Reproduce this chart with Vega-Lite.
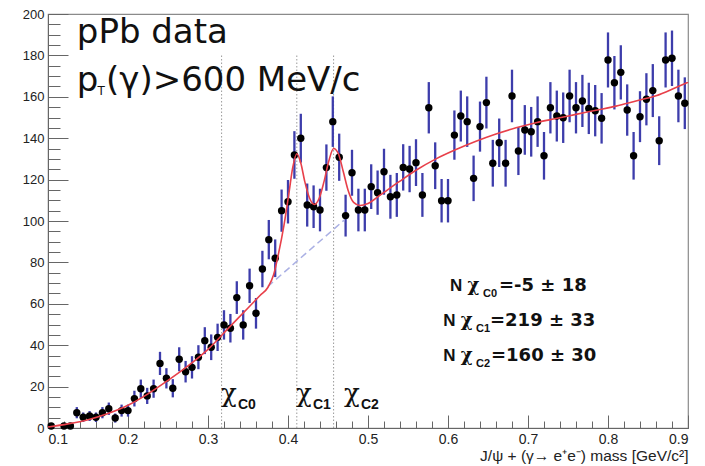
{
  "$schema": "https://vega.github.io/schema/vega-lite/v6.json",
  "width": 640,
  "height": 414,
  "autosize": {"type": "none"},
  "padding": {"left": 48, "top": 14, "right": 17, "bottom": 38},
  "background": "white",
  "config": {
    "view": {"stroke": "#8a8a8a", "strokeWidth": 1.2},
    "axis": {"grid": false, "labelFont": "Liberation Sans", "titleFont": "Liberation Sans", "labelColor": "#222", "titleColor": "#222", "domainColor": "#666", "tickColor": "#666"}
  },
  "datasets": {
    "pts": [
      {"m":0.104,"n":1,"lo":0,"hi":2},{"m":0.120,"n":1,"lo":0,"hi":2},{"m":0.128,"n":1,"lo":0,"hi":2},
      {"m":0.136,"n":7.4,"lo":4.7,"hi":10.1},{"m":0.144,"n":5.2,"lo":2.9,"hi":7.5},{"m":0.152,"n":5.8,"lo":3.4,"hi":8.2},
      {"m":0.160,"n":5.2,"lo":2.9,"hi":7.5},{"m":0.168,"n":7.4,"lo":4.7,"hi":10.1},{"m":0.176,"n":9.3,"lo":6.3,"hi":12.3},
      {"m":0.184,"n":4.8,"lo":2.6,"hi":7.0},{"m":0.192,"n":8.4,"lo":5.5,"hi":11.3},{"m":0.200,"n":8.4,"lo":5.5,"hi":11.3},
      {"m":0.208,"n":14.2,"lo":10.4,"hi":18.0},{"m":0.216,"n":19,"lo":14.6,"hi":23.4},{"m":0.224,"n":15.5,"lo":11.6,"hi":19.4},
      {"m":0.232,"n":19,"lo":14.6,"hi":23.4},{"m":0.240,"n":31.2,"lo":25.6,"hi":36.8},{"m":0.248,"n":24,"lo":19.1,"hi":28.9},
      {"m":0.256,"n":19.2,"lo":14.8,"hi":23.6},{"m":0.264,"n":33.2,"lo":27.4,"hi":39.0},{"m":0.272,"n":27.2,"lo":22.0,"hi":32.4},
      {"m":0.280,"n":29.3,"lo":23.9,"hi":34.7},{"m":0.288,"n":34.2,"lo":28.4,"hi":40.0},{"m":0.296,"n":42.2,"lo":35.7,"hi":48.7},
      {"m":0.304,"n":39,"lo":32.8,"hi":45.2},{"m":0.312,"n":43.8,"lo":37.2,"hi":50.4},{"m":0.320,"n":49.8,"lo":42.7,"hi":56.9},
      {"m":0.328,"n":48.2,"lo":41.3,"hi":55.1},{"m":0.336,"n":63,"lo":55.1,"hi":70.9},{"m":0.344,"n":49.8,"lo":42.7,"hi":56.9},
      {"m":0.352,"n":68.7,"lo":60.4,"hi":77.0},{"m":0.360,"n":55.4,"lo":48.0,"hi":62.8},{"m":0.368,"n":76.8,"lo":68.0,"hi":85.6},
      {"m":0.376,"n":91,"lo":81.5,"hi":100.5},{"m":0.384,"n":82,"lo":72.9,"hi":91.1},{"m":0.392,"n":105,"lo":94.8,"hi":115.2},
      {"m":0.400,"n":109.3,"lo":98.8,"hi":119.8},{"m":0.408,"n":131.9,"lo":120.4,"hi":143.4},{"m":0.416,"n":140,"lo":128.2,"hi":151.8},
      {"m":0.424,"n":107.7,"lo":97.3,"hi":118.1},{"m":0.432,"n":106.9,"lo":96.6,"hi":117.2},{"m":0.440,"n":105.3,"lo":95.0,"hi":115.6},
      {"m":0.448,"n":125.8,"lo":114.6,"hi":137.0},{"m":0.456,"n":148,"lo":135.8,"hi":160.2},{"m":0.464,"n":130.8,"lo":119.4,"hi":142.2},
      {"m":0.472,"n":102.6,"lo":92.5,"hi":112.7},{"m":0.480,"n":123.3,"lo":112.2,"hi":134.4},{"m":0.488,"n":105.3,"lo":95.0,"hi":115.6},
      {"m":0.496,"n":105.3,"lo":95.0,"hi":115.6},{"m":0.504,"n":116.6,"lo":105.8,"hi":127.4},{"m":0.512,"n":113.7,"lo":103.0,"hi":124.4},
      {"m":0.520,"n":123.8,"lo":112.7,"hi":134.9},{"m":0.528,"n":111.7,"lo":101.1,"hi":122.3},{"m":0.536,"n":112.6,"lo":102.0,"hi":123.2},
      {"m":0.544,"n":125.9,"lo":114.7,"hi":137.1},{"m":0.552,"n":125.1,"lo":113.9,"hi":136.3},{"m":0.560,"n":128.2,"lo":116.9,"hi":139.5},
      {"m":0.568,"n":112.6,"lo":102.0,"hi":123.2},{"m":0.576,"n":154.7,"lo":142.3,"hi":167.1},{"m":0.584,"n":126.7,"lo":115.4,"hi":138.0},
      {"m":0.592,"n":109.8,"lo":99.3,"hi":120.3},{"m":0.600,"n":109.8,"lo":99.3,"hi":120.3},{"m":0.608,"n":141.5,"lo":129.6,"hi":153.4},
      {"m":0.616,"n":150.7,"lo":138.4,"hi":163.0},{"m":0.624,"n":148,"lo":135.8,"hi":160.2},{"m":0.632,"n":120.6,"lo":109.6,"hi":131.6},
      {"m":0.640,"n":145.6,"lo":133.5,"hi":157.7},{"m":0.648,"n":157.2,"lo":144.7,"hi":169.7},{"m":0.656,"n":127.9,"lo":116.6,"hi":139.2},
      {"m":0.664,"n":137.8,"lo":126.1,"hi":149.5},{"m":0.672,"n":127.9,"lo":116.6,"hi":139.2},{"m":0.680,"n":160.4,"lo":147.7,"hi":173.1},
      {"m":0.688,"n":133.8,"lo":122.2,"hi":145.4},{"m":0.696,"n":144,"lo":132.0,"hi":156.0},{"m":0.704,"n":143.1,"lo":131.1,"hi":155.1},
      {"m":0.712,"n":148,"lo":135.8,"hi":160.2},{"m":0.720,"n":131.5,"lo":120.0,"hi":143.0},{"m":0.728,"n":154.7,"lo":142.3,"hi":167.1},
      {"m":0.736,"n":150.7,"lo":138.4,"hi":163.0},{"m":0.744,"n":149.9,"lo":137.7,"hi":162.1},{"m":0.752,"n":160.4,"lo":147.7,"hi":173.1},
      {"m":0.760,"n":154.7,"lo":142.3,"hi":167.1},{"m":0.768,"n":158,"lo":145.4,"hi":170.6},{"m":0.776,"n":154.4,"lo":142.0,"hi":166.8},
      {"m":0.784,"n":153.3,"lo":140.9,"hi":165.7},{"m":0.792,"n":149.6,"lo":137.4,"hi":161.8},{"m":0.800,"n":177.8,"lo":164.5,"hi":191.1},
      {"m":0.808,"n":166.8,"lo":153.9,"hi":179.7},{"m":0.816,"n":171.8,"lo":158.7,"hi":184.9},{"m":0.824,"n":153.6,"lo":141.2,"hi":166.0},
      {"m":0.832,"n":131.5,"lo":120.0,"hi":143.0},{"m":0.840,"n":150.4,"lo":138.1,"hi":162.7},{"m":0.848,"n":158.8,"lo":146.2,"hi":171.4},
      {"m":0.856,"n":163,"lo":150.2,"hi":175.8},{"m":0.864,"n":138.8,"lo":127.0,"hi":150.6},{"m":0.872,"n":177.8,"lo":164.5,"hi":191.1},
      {"m":0.880,"n":178.6,"lo":165.2,"hi":192.0},{"m":0.888,"n":160.4,"lo":147.7,"hi":173.1},{"m":0.896,"n":156.9,"lo":144.4,"hi":169.4}
    ],
    "fit": [
      {"m":0.100,"n":0.5},{"m":0.125,"n":2},{"m":0.15,"n":4},{"m":0.175,"n":7},{"m":0.2,"n":11},{"m":0.225,"n":16.5},
      {"m":0.25,"n":23},{"m":0.275,"n":30},{"m":0.3,"n":38},{"m":0.325,"n":48},{"m":0.35,"n":58},{"m":0.365,"n":64},
      {"m":0.375,"n":68},{"m":0.382,"n":74},{"m":0.388,"n":84},{"m":0.395,"n":98},{"m":0.401,"n":113},{"m":0.406,"n":126},
      {"m":0.411,"n":132.5},{"m":0.416,"n":128},{"m":0.421,"n":119},{"m":0.427,"n":111},{"m":0.433,"n":108},{"m":0.439,"n":111},
      {"m":0.445,"n":119},{"m":0.451,"n":129},{"m":0.457,"n":135},{"m":0.463,"n":132.5},{"m":0.469,"n":124},{"m":0.475,"n":115},
      {"m":0.482,"n":109},{"m":0.49,"n":107.5},{"m":0.5,"n":108.5},{"m":0.515,"n":112.5},{"m":0.539,"n":119},{"m":0.56,"n":124.5},
      {"m":0.585,"n":130},{"m":0.61,"n":134.5},{"m":0.635,"n":138.5},{"m":0.66,"n":142},{"m":0.685,"n":145},{"m":0.71,"n":147.5},
      {"m":0.735,"n":149.5},{"m":0.76,"n":151.5},{"m":0.785,"n":153.5},{"m":0.81,"n":155.5},{"m":0.835,"n":158},{"m":0.86,"n":160.5},
      {"m":0.885,"n":164.5},{"m":0.9,"n":167}
    ],
    "bg": [{"m":0.3746,"n":68.3},{"m":0.4704,"n":100.5}],
    "vlines": [{"m":0.317},{"m":0.411},{"m":0.457}],
    "labels": [
      {"t":"pPb data","m":0.136,"v":186.1,"k":"big"},
      {"t":"p","m":0.136,"v":163,"k":"big"},
      {"t":"(γ)>600 MeV/c","m":0.1725,"v":163,"k":"big"},
      {"t":"T","m":0.162,"v":161,"k":"bigsub"},
      {"t":"χ","m":0.31625,"v":12.6,"k":"chi"},
      {"t":"χ","m":0.41,"v":12.6,"k":"chi"},
      {"t":"χ","m":0.47,"v":12.6,"k":"chi"},
      {"t":"C0","m":0.3375,"v":9.2,"k":"chisub"},
      {"t":"C1","m":0.43125,"v":9.2,"k":"chisub"},
      {"t":"C2","m":0.49125,"v":9.2,"k":"chisub"},
      {"t":"N","m":0.6025,"v":66.2,"k":"annN"},
      {"t":"χ","m":0.6245,"v":66.2,"k":"annchi"},
      {"t":"C0","m":0.64375,"v":63.5,"k":"annsub"},
      {"t":"=-5 ± 18","m":0.66375,"v":66.2,"k":"annrest"},
      {"t":"N","m":0.594,"v":49.3,"k":"annN"},
      {"t":"χ","m":0.616,"v":49.3,"k":"annchi"},
      {"t":"C1","m":0.635,"v":46.6,"k":"annsub"},
      {"t":"=219 ± 33","m":0.6525,"v":49.3,"k":"annrest"},
      {"t":"N","m":0.594,"v":32.4,"k":"annN"},
      {"t":"χ","m":0.616,"v":32.4,"k":"annchi"},
      {"t":"C2","m":0.635,"v":29.7,"k":"annsub"},
      {"t":"=160 ± 30","m":0.65375,"v":32.4,"k":"annrest"}
    ]
  },
  "resolve": {"axis": {"x": "independent", "y": "independent"}},
  "layer": [
    {
      "data": {"name": "vlines"},
      "mark": {"type": "rule", "color": "#9a9a9a", "strokeDash": [1.5, 2], "strokeWidth": 1},
      "encoding": {
        "x": {"field": "m", "type": "quantitative", "scale": {"domain": [0.1, 0.9], "nice": false, "zero": false},
              "axis": {"orient": "bottom", "values": [0.1,0.12,0.14,0.16,0.18,0.2,0.22,0.24,0.26,0.28,0.3,0.32,0.34,0.36,0.38,0.4,0.42,0.44,0.46,0.48,0.5,0.52,0.54,0.56,0.58,0.6,0.62,0.64,0.66,0.68,0.7,0.72,0.74,0.76,0.78,0.8,0.82,0.84,0.86,0.88,0.9], "labels": false, "domain": false, "tickSize": -7, "title": null}},
        "y": {"datum": 0, "type": "quantitative", "scale": {"domain": [0, 200], "nice": false},
              "axis": {"orient": "left", "values": [0,5,10,15,20,25,30,35,40,45,50,55,60,65,70,75,80,85,90,95,100,105,110,115,120,125,130,135,140,145,150,155,160,165,170,175,180,185,190,195,200], "labels": false, "domain": false, "tickSize": -12, "title": null}},
        "y2": {"datum": 180}
      }
    },
    {
      "data": {"name": "pts"},
      "mark": {"type": "rule", "color": "#3d3dab", "strokeWidth": 2.3},
      "encoding": {
        "x": {"field": "m", "type": "quantitative", "axis": null},
        "y": {"field": "lo", "type": "quantitative", "axis": null},
        "y2": {"field": "hi"}
      }
    },
    {
      "data": {"name": "pts"},
      "mark": {"type": "circle", "color": "#000", "opacity": 1, "size": 55},
      "encoding": {
        "x": {"field": "m", "type": "quantitative",
              "axis": {"orient": "bottom", "values": [0.1,0.2,0.3,0.4,0.5,0.6,0.7,0.8,0.9], "format": ".1f", "tickSize": -13, "labelFontSize": 14, "labelPadding": 17,
                       "title": "J/ψ + (γ→ e⁺e⁻) mass  [GeV/c²]", "titleFontSize": 15.5, "titleFontWeight": "normal", "titleAnchor": "end", "titlePadding": 2}},
        "y": {"field": "n", "type": "quantitative",
              "axis": {"orient": "left", "values": [0,20,40,60,80,100,120,140,160,180,200], "tickSize": -20, "labelFontSize": 13, "labelPadding": 24, "title": null}}
      }
    },
    {
      "data": {"name": "bg"},
      "mark": {"type": "line", "color": "#aab0e4", "strokeWidth": 1.5, "strokeDash": [7, 4]},
      "encoding": {
        "x": {"field": "m", "type": "quantitative", "axis": null},
        "y": {"field": "n", "type": "quantitative", "axis": null}
      }
    },
    {
      "data": {"name": "fit"},
      "mark": {"type": "line", "color": "#e8404a", "strokeWidth": 1.6, "interpolate": "monotone"},
      "encoding": {
        "x": {"field": "m", "type": "quantitative", "axis": null},
        "y": {"field": "n", "type": "quantitative", "axis": null}
      }
    },
    {
      "data": {"name": "labels"},
      "transform": [{"filter": "datum.k == 'big'"}],
      "mark": {"type": "text", "align": "left", "baseline": "alphabetic", "font": "DejaVu Sans", "fontSize": 34, "color": "#111"},
      "encoding": {"x": {"field": "m", "type": "quantitative", "axis": null}, "y": {"field": "v", "type": "quantitative", "axis": null}, "text": {"field": "t"}}
    },
    {
      "data": {"name": "labels"},
      "transform": [{"filter": "datum.k == 'bigsub'"}],
      "mark": {"type": "text", "align": "left", "baseline": "alphabetic", "font": "DejaVu Sans", "fontSize": 12, "color": "#111"},
      "encoding": {"x": {"field": "m", "type": "quantitative", "axis": null}, "y": {"field": "v", "type": "quantitative", "axis": null}, "text": {"field": "t"}}
    },
    {
      "data": {"name": "labels"},
      "transform": [{"filter": "datum.k == 'chi'"}],
      "mark": {"type": "text", "align": "left", "baseline": "alphabetic", "font": "DejaVu Serif", "fontSize": 26, "color": "#111"},
      "encoding": {"x": {"field": "m", "type": "quantitative", "axis": null}, "y": {"field": "v", "type": "quantitative", "axis": null}, "text": {"field": "t"}}
    },
    {
      "data": {"name": "labels"},
      "transform": [{"filter": "datum.k == 'chisub'"}],
      "mark": {"type": "text", "align": "left", "baseline": "alphabetic", "font": "Liberation Sans", "fontWeight": "bold", "fontSize": 14, "color": "#111"},
      "encoding": {"x": {"field": "m", "type": "quantitative", "axis": null}, "y": {"field": "v", "type": "quantitative", "axis": null}, "text": {"field": "t"}}
    },
    {
      "data": {"name": "labels"},
      "transform": [{"filter": "datum.k == 'annN'"}],
      "mark": {"type": "text", "align": "left", "baseline": "alphabetic", "font": "Liberation Sans", "fontWeight": "bold", "fontSize": 17, "color": "#111"},
      "encoding": {"x": {"field": "m", "type": "quantitative", "axis": null}, "y": {"field": "v", "type": "quantitative", "axis": null}, "text": {"field": "t"}}
    },
    {
      "data": {"name": "labels"},
      "transform": [{"filter": "datum.k == 'annchi'"}],
      "mark": {"type": "text", "align": "left", "baseline": "alphabetic", "font": "DejaVu Serif", "fontWeight": "bold", "fontSize": 18, "color": "#111"},
      "encoding": {"x": {"field": "m", "type": "quantitative", "axis": null}, "y": {"field": "v", "type": "quantitative", "axis": null}, "text": {"field": "t"}}
    },
    {
      "data": {"name": "labels"},
      "transform": [{"filter": "datum.k == 'annsub'"}],
      "mark": {"type": "text", "align": "left", "baseline": "alphabetic", "font": "Liberation Sans", "fontWeight": "bold", "fontSize": 11, "color": "#111"},
      "encoding": {"x": {"field": "m", "type": "quantitative", "axis": null}, "y": {"field": "v", "type": "quantitative", "axis": null}, "text": {"field": "t"}}
    },
    {
      "data": {"name": "labels"},
      "transform": [{"filter": "datum.k == 'annrest'"}],
      "mark": {"type": "text", "align": "left", "baseline": "alphabetic", "font": "DejaVu Sans", "fontWeight": "bold", "fontSize": 18, "color": "#111"},
      "encoding": {"x": {"field": "m", "type": "quantitative", "axis": null}, "y": {"field": "v", "type": "quantitative", "axis": null}, "text": {"field": "t"}}
    }
  ]
}
